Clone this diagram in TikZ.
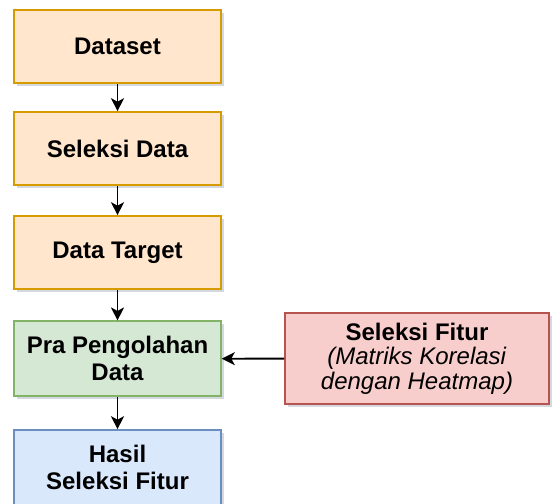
\documentclass[tikz,border=0pt]{standalone}
\usepackage{fontspec}
\setmainfont{Liberation Sans}
\usetikzlibrary{arrows.meta,shadows}
\definecolor{ofill}{HTML}{FFE6CC}\definecolor{ostroke}{HTML}{D79B00}
\definecolor{gfill}{HTML}{D5E8D4}\definecolor{gstroke}{HTML}{82B366}
\definecolor{bfill}{HTML}{DAE8FC}\definecolor{bstroke}{HTML}{6C8EBF}
\definecolor{rfill}{HTML}{F8CECC}\definecolor{rstroke}{HTML}{B85450}
\definecolor{shd}{HTML}{8090A8}
\tikzset{
  box/.style={rectangle, inner sep=0pt, line width=1.6pt, minimum width=207pt,
    align=center, font=\fontsize{24}{27}\selectfont\bfseries,
    drop shadow={shadow xshift=3pt, shadow yshift=-3pt, opacity=0.35, fill=shd}},
  orangebox/.style={box, fill=ofill, draw=ostroke, minimum height=73pt},
  greenbox/.style={box, fill=gfill, draw=gstroke, minimum height=75pt},
  bluebox/.style={box, fill=bfill, draw=bstroke, minimum height=75pt},
  redbox/.style={box, fill=rfill, draw=rstroke, minimum width=264pt, minimum height=91pt,
    font=\fontsize{24}{24.5}\selectfont},
  conn/.style={line width=1.8pt, -{Stealth[length=13pt, width=13pt, inset=3.5pt]}}
}
\begin{document}
\begin{tikzpicture}[x=1pt,y=-1pt]
\useasboundingbox (0,0) rectangle (553,503);
\begin{scope}
\clip (0,0) rectangle (553,503);
\node[orangebox] (ds) at (117.5,46.5) {Dataset};
\node[orangebox] (sd) at (117.5,148.5) {Seleksi Data};
\node[orangebox] (dt) at (117.5,252.5) {Data Target};
\node[greenbox] (pp) at (117.5,358.75) {Pra Pengolahan\\Data};
\node[bluebox] (hs) at (117.5,467.5) {Hasil\\Seleksi Fitur};
\node[redbox] (sf) at (417,358.5) {\textbf{Seleksi Fitur}\\\textit{(Matriks Korelasi}\\\textit{dengan Heatmap)}};
\end{scope}
\draw[conn] (ds) -- (sd);
\draw[conn] (sd) -- (dt);
\draw[conn] (dt) -- (pp);
\draw[conn] (pp) -- (hs);
\draw[conn] (sf) -- (pp);
\end{tikzpicture}
\end{document}
